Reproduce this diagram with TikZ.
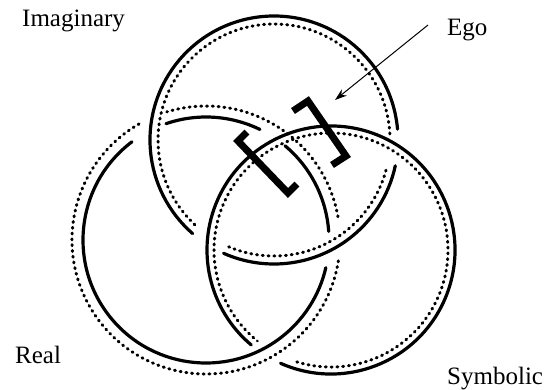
\documentclass[tikz,border=0pt]{standalone}
\usepackage{fontspec}
\setmainfont{Liberation Serif}
\usetikzlibrary{arrows.meta}
\begin{document}
\begin{tikzpicture}[x=1pt,y=1pt,
  solidring/.style={line width=3.2pt,line cap=round},
  dotring/.style={line width=3pt,line cap=round,dash pattern=on 1pt off 4.8pt},
  bracketline/.style={line width=7pt,line join=miter,line cap=butt},
  label/.style={inner sep=0pt,anchor=base west,font=\fontsize{25}{25}\selectfont},
  egoarrow/.style={line width=1pt,-{Stealth[length=12pt,width=8pt]}}]
\useasboundingbox (0,-389) rectangle (544,0);
\fill[white] (0,-389) rectangle (544,0);
% centres
\coordinate (CI) at (274,-140);
\coordinate (CR) at (206,-240);
\coordinate (CS) at (331,-250);
% Imaginary
\draw[solidring] (CI) ++(5:124) arc[start angle=5,end angle=229,radius=124];
\draw[solidring] (CI) ++(246:124) arc[start angle=246,end angle=348,radius=124];
\draw[dotring] (CI) ++(3:116) arc[start angle=3,end angle=229,radius=116];
\draw[dotring] (CI) ++(247:116) arc[start angle=247,end angle=345,radius=116];
% Real
\draw[solidring] (CR) ++(127:123) arc[start angle=127,end angle=347,radius=123];
\draw[solidring] (CR) ++(4:123) arc[start angle=4,end angle=50,radius=123];
\draw[solidring] (CR) ++(64:123) arc[start angle=64,end angle=109,radius=123];
\draw[dotring] (CR) ++(120:134) arc[start angle=120,end angle=352,radius=134];
\draw[dotring] (CR) ++(10:134) arc[start angle=10,end angle=107,radius=134];
% Symbolic
\draw[solidring] (CS) ++(246:124) arc[start angle=246,end angle=590,radius=124];
\draw[dotring] (CS) ++(253:117) arc[start angle=253,end angle=591,radius=117];
% Ego brackets
\coordinate (ua) at (293,-111);
\coordinate (ub) at (308,-101);
\coordinate (uc) at (346,-156);
\coordinate (ud) at (332,-165);
\draw[bracketline] (ua) -- (ub) -- (uc) -- (ud);
\coordinate (la) at (247,-132);
\coordinate (lb) at (238,-141);
\coordinate (lc) at (288,-193);
\coordinate (ld) at (297,-184);
\draw[bracketline] (la) -- (lb) -- (lc) -- (ld);
% labels
\node[label] (imag) at (22,-26) {Imaginary};
\node[label] (ego) at (447,-35) {Ego};
\node[label] (real) at (15,-363) {Real};
\node[label] (symb) at (447,-384) {Symbolic};
% arrow
\coordinate (egotail) at (428,-25);
\coordinate (egotip) at (335,-100);
\draw[egoarrow] (egotail) -- (egotip);
\end{tikzpicture}
\end{document}
